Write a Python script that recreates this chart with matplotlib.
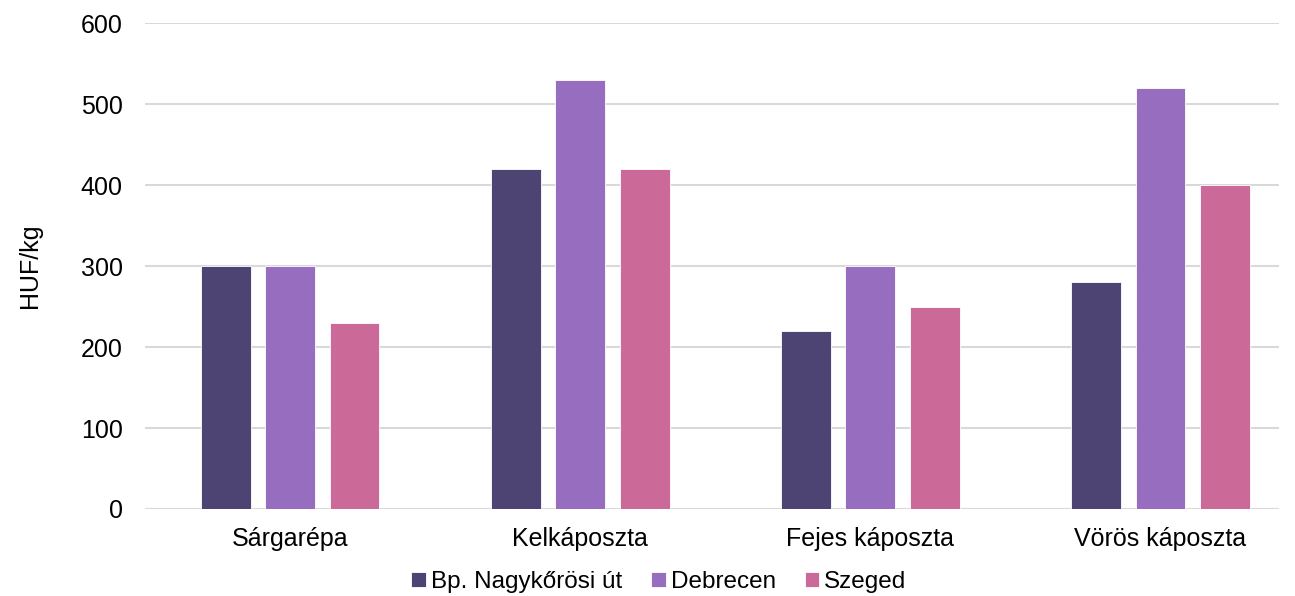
import numpy as np
import matplotlib
matplotlib.use('Agg')
import matplotlib.pyplot as plt

plt.rcParams['font.family'] = ['Liberation Sans', 'DejaVu Sans']

categories = ['Sárgarépa', 'Kelkáposzta', 'Fejes káposzta', 'Vörös káposzta']
series = ['Bp. Nagykőrösi út', 'Debrecen', 'Szeged']
bp = [300, 420, 220, 280]
debrecen = [300, 530, 300, 520]
szeged = [230, 420, 250, 400]
colors = ['#4e4474', '#976dc0', '#cb6a98']

fig = plt.figure(figsize=(12.95, 5.96), dpi=100)
ax = fig.add_axes([0.112, 0.146, 0.876, 0.815])

x = np.arange(len(categories))
w = 0.172
step = 0.222
for i, (vals, name) in enumerate(zip([bp, debrecen, szeged], series)):
    ax.bar(x + (i - 1) * step, vals, width=w, color=colors[i], label=name,
           edgecolor='white', linewidth=0.6, zorder=3)

ax.set_xlim(-0.5, 3.41)
ax.set_ylim(0, 600)
ax.set_yticks(range(0, 601, 100))
ax.set_xticks(x)
ax.set_xticklabels(categories)
ax.tick_params(axis='both', length=0, labelsize=18, colors='black')
ax.tick_params(axis='y', pad=16)
ax.tick_params(axis='x', pad=13)
ax.grid(axis='y', color='#d9d9d9', linewidth=1.5, zorder=0)
for s in ax.spines.values():
    s.set_visible(False)

ax.set_ylabel('HUF/kg', fontsize=18, labelpad=28)

ax.legend(loc='center', bbox_to_anchor=(0.453, -0.15), ncol=3, frameon=False,
          fontsize=17.5, handlelength=0.6, handleheight=0.6, handletextpad=0.2,
          columnspacing=1.2, borderpad=0.2)

plt.savefig('out.png', dpi=100)
